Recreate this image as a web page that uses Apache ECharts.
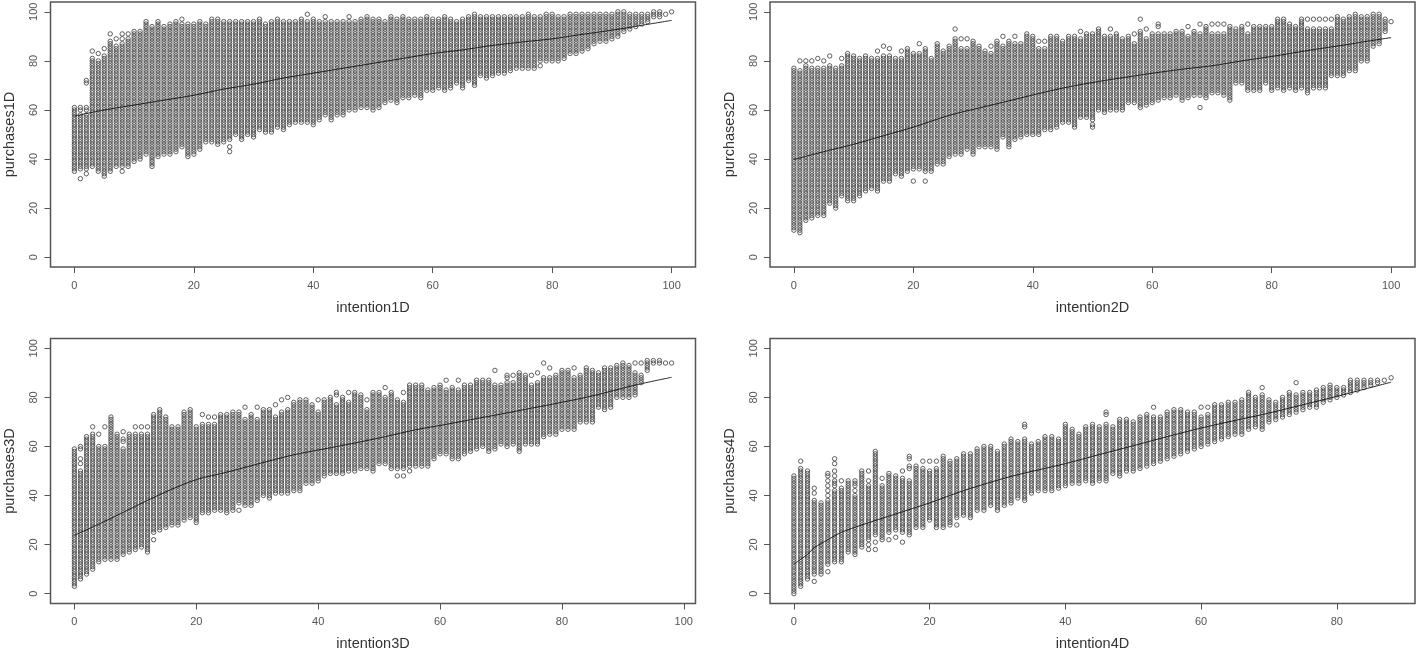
<!DOCTYPE html>
<html><head><meta charset="utf-8">
<style>html,body{margin:0;padding:0;background:#fff}#c{width:1416px;height:652px}</style>
<script src="https://cdn.jsdelivr.net/npm/echarts@6/dist/echarts.min.js"></script>
</head><body><div id="c"></div>
<script>
// Column ranges: index = intention value, each column holds whole-number purchases between bottom and top.
const top1=[61,61,72,84,83,85,91,89,91,91,92,92,96,94,96,94,95,96,97,95,95,96,95,97,97,96,96,96,96,96,96,97,95,96,97,96,96,96,97,99,97,96,98,96,96,96,98,96,97,98,97,97,96,98,97,98,97,97,97,98,97,97,98,97,96,97,98,99,98,98,98,98,98,98,98,98,99,98,98,99,99,98,98,99,99,99,99,99,99,99,99,100,100,99,99,99,99,100,100,99,100];
const bottom1=[35,32,34,37,35,33,35,37,35,37,39,40,42,37,41,42,42,43,45,41,42,44,47,47,46,47,43,50,48,50,49,52,51,51,53,52,54,55,55,55,54,56,58,56,58,58,60,60,61,61,60,61,63,64,63,65,65,66,65,68,68,69,68,69,71,69,72,70,74,73,74,75,75,76,77,77,77,77,78,80,80,80,81,83,83,84,85,87,88,88,89,90,92,93,94,95,96,98,98,99,100];
const gaps1=[[1,33,35],[1,59,59],[2,35,35],[2,59,59],[2,62,70],[3,82,83],[4,81,82],[5,83,84],[6,89,90],[7,87,88],[8,36,36],[8,88,88],[8,90,90],[9,90,90],[26,44,44],[26,46,47],[18,96,96],[39,97,98],[42,97,97],[46,97,97],[78,79,79]];
const curveX1=[0,5,10,15,20,25,30,35,40,45,50,55,60,65,70,75,80,85,90,95,100];
const curveY1=[57.5,60,62,64,66,68.5,70.5,73,75,77,79,81,83,84.5,86.3,87.7,89,90.8,92.5,94.5,96.5];

const top2=[77,80,80,80,81,80,82,77,81,83,82,81,82,81,84,86,85,81,84,85,83,87,85,81,87,84,86,93,89,89,88,86,84,86,88,90,88,90,87,91,90,88,88,90,90,88,90,90,92,91,91,93,90,93,91,89,90,91,97,93,91,95,91,91,92,92,94,92,95,94,95,95,95,94,93,94,95,94,94,94,94,97,97,95,94,97,97,97,97,97,97,98,97,98,99,98,98,99,99,97,96];
const bottom2=[11,10,15,16,17,17,22,20,25,23,23,25,27,28,27,31,31,34,33,35,31,36,31,35,38,38,41,42,42,44,42,45,45,45,44,49,45,48,49,50,50,50,52,52,53,55,55,53,57,57,53,60,59,60,60,60,63,63,61,62,63,64,65,65,66,64,65,66,61,65,67,67,66,64,71,71,68,68,68,71,68,69,68,69,68,69,67,69,69,69,74,74,74,76,76,80,80,86,87,92,96];
const gaps2=[[1,77,79],[2,79,79],[3,78,79],[4,78,80],[5,78,79],[6,79,81],[8,79,80],[14,82,83],[15,83,85],[16,83,84],[18,82,83],[20,32,35],[21,84,86],[22,32,34],[27,90,92],[28,86,88],[29,86,88],[33,84,85],[35,87,89],[37,88,89],[41,86,87],[42,86,87],[48,90,91],[50,55,55],[53,91,92],[57,88,90],[58,93,96],[59,90,92],[61,92,93],[66,91,93],[68,62,65],[68,92,94],[70,92,94],[71,92,94],[72,92,94],[76,92,94],[86,94,96],[87,94,96],[88,94,96],[89,94,96],[90,94,96]];
const curveX2=[0,5,10,15,20,26,31,36,41,46,51,56,61,66,70,75,80,87,92,96,100];
const curveY2=[39.8,43,46,49.5,53,57.8,60.8,63.7,66.7,69.4,71.6,73.5,75.3,76.9,78,80,81.8,84.6,86.4,88,89.5];

const top3=[59,60,64,68,65,68,72,65,66,65,68,68,68,73,75,72,68,68,74,75,68,73,72,72,73,73,74,74,76,73,76,75,75,77,79,80,78,79,79,77,79,79,80,82,80,82,82,81,79,82,82,84,82,79,82,85,85,85,83,84,85,87,84,87,85,85,87,87,87,91,85,89,89,90,89,89,90,94,92,89,91,91,92,89,92,91,90,92,92,93,94,93,94,94,95,95,95,94,94];
const bottom3=[3,6,8,10,13,14,14,14,16,17,18,19,17,22,26,27,28,28,30,31,29,33,33,34,34,33,34,34,36,36,38,40,39,41,41,41,42,40,45,45,46,48,49,49,49,50,50,51,49,50,53,53,51,48,48,50,52,52,52,55,57,57,55,55,57,58,59,60,58,59,61,60,61,58,61,61,61,64,65,62,67,67,67,70,70,70,76,75,76,80,80,80,81,86,91,94,94,94,94];
const gaps3=[[1,51,52],[1,54,54],[1,56,58],[3,66,67],[4,61,64],[5,61,67],[8,60,61],[8,64,65],[10,66,67],[11,66,67],[12,66,67],[13,23,24],[21,70,72],[22,70,71],[23,70,71],[27,35,36],[28,72,75],[30,72,75],[33,73,76],[34,75,78],[35,76,79],[37,40,41],[40,75,78],[43,78,80],[45,79,81],[48,76,78],[48,49,50],[51,81,83],[53,49,50],[54,49,50],[55,51,51],[54,79,81],[61,84,86],[63,84,86],[69,86,90],[71,87,87],[72,87,88],[75,86,88],[76,87,89],[77,89,93],[78,89,91],[79,62,64],[82,89,91],[85,55,55],[92,91,93],[93,90,93]];
const curveX3=[0,5,10,15,20,25,30,36,41,46,51,56,61,65,70,75,80,85,92,98];
const curveY3=[23.8,29.5,35.6,41.5,46.5,49.5,52.8,56.6,59,61.4,64,66.8,69,70.9,73.2,75.6,78,80.6,85,88.2];

const top4=[48,54,50,43,37,49,55,46,46,46,50,50,58,47,49,48,50,56,52,54,54,54,56,54,55,57,57,59,60,60,58,61,63,62,69,61,62,64,64,63,69,67,65,68,69,68,74,68,71,71,70,72,73,76,72,74,75,75,74,74,76,76,77,77,78,78,79,82,80,84,79,78,80,82,86,82,82,83,84,85,84,84,87,87,87,87,87,87,88];
const bottom4=[0,3,6,5,8,9,13,13,17,16,19,18,18,22,22,23,21,24,27,27,30,27,27,28,28,32,31,34,34,36,34,36,37,39,38,41,42,42,42,43,44,45,45,46,45,46,46,49,48,50,50,51,52,53,54,55,56,57,58,59,60,61,62,63,64,65,65,67,68,67,70,71,72,73,74,75,76,76,78,79,80,81,82,83,84,85,86,87,88];
const gaps4=[[1,52,53],[3,6,7],[3,39,40],[3,42,42],[5,10,11],[5,39,39],[5,41,41],[5,43,43],[5,45,45],[5,47,47],[6,43,43],[6,47,47],[6,49,49],[6,51,52],[6,54,54],[7,44,45],[9,41,41],[9,43,43],[11,19,19],[11,21,21],[11,45,45],[11,47,49],[12,19,20],[12,22,23],[13,45,46],[14,23,24],[15,24,25],[16,22,24],[16,48,49],[17,47,50],[17,53,54],[19,52,53],[20,51,53],[21,52,53],[24,29,30],[34,64,67],[46,70,72],[53,73,75],[60,73,75],[61,74,75],[69,82,83],[74,82,85]];
const curveX4=[0,1,2,3,5,7,10,15,20,25,32,40,45,50,55,60,65,70,75,80,84,88];
const curveY4=[12,14,16,18.7,22,25,28,32.5,37,42,47.8,53,56.7,60.3,64,67.5,70.6,73.6,77,80.4,83.3,86.2];

const xNames=["intention1D","intention2D","intention3D","intention4D"];
const yNames=["purchases1D","purchases2D","purchases3D","purchases4D"];
const xLimits=[[-4,104],[-4,104],[-3.92,101.92],[-3.52,91.52]];
const yLimits=[-4,104];
const xTicks=[[0,20,40,60,80,100],[0,20,40,60,80,100],[0,20,40,60,80,100],[0,20,40,60,80]];
const yTicks=[0,20,40,60,80,100];

const tops=[top1,top2,top3,top4], bottoms=[bottom1,bottom2,bottom3,bottom4], gaps=[gaps1,gaps2,gaps3,gaps4];
const curveXs=[curveX1,curveX2,curveX3,curveX4], curveYs=[curveY1,curveY2,curveY3,curveY4];
const boxes=[[50.5,2],[770,2],[50.5,338.5],[770,338.5]];
const grey='#555', font='"Liberation Sans",Arial,sans-serif';

function columnPoints(p){
  const out=[];
  tops[p].forEach((t,x)=>{
    for(let y=bottoms[p][x];y<=t;y++){
      if(gaps[p].some(g=>g[0]===x&&y>=g[1]&&y<=g[2])) continue;
      out.push([x,y]);
    }
  });
  return out;
}
const grid=[],xAxis=[],yAxis=[],series=[];
for(let p=0;p<4;p++){
  grid.push({left:boxes[p][0],top:boxes[p][1],width:645,height:265,outerBoundsMode:'none',containLabel:false,show:true,borderColor:grey,borderWidth:1.5,backgroundColor:'#fff'});
  xAxis.push({type:'value',gridIndex:p,min:xLimits[p][0],max:xLimits[p][1],name:xNames[p],nameLocation:'middle',nameGap:33,
    nameTextStyle:{fontFamily:font,fontSize:14.5,color:'#333'},splitLine:{show:false},axisLine:{show:false,onZero:false},
    axisTick:{show:true,length:6,customValues:xTicks[p],lineStyle:{color:grey,width:1}},
    axisLabel:{customValues:xTicks[p],margin:13,fontFamily:font,fontSize:11,color:'#555'}});
  yAxis.push({type:'value',gridIndex:p,min:yLimits[0],max:yLimits[1],name:yNames[p],nameLocation:'middle',nameGap:33,
    nameTextStyle:{fontFamily:font,fontSize:14.5,color:'#333'},splitLine:{show:false},axisLine:{show:false,onZero:false},
    axisTick:{show:true,length:6,customValues:yTicks,lineStyle:{color:grey,width:1}},
    axisLabel:{customValues:yTicks,rotate:90,margin:11,fontFamily:font,fontSize:11,color:'#555'}});
  series.push({type:'scatter',xAxisIndex:p,yAxisIndex:p,data:columnPoints(p),symbol:'circle',symbolSize:4.4,
    itemStyle:{color:'rgba(255,255,255,0)',borderColor:'#444',borderWidth:0.85,opacity:1},
    progressive:0,silent:true,animation:false});
  series.push({type:'line',xAxisIndex:p,yAxisIndex:p,data:curveXs[p].map((x,i)=>[x,curveYs[p][i]]),showSymbol:false,smooth:0.3,
    lineStyle:{color:'#111',width:0.9},z:5,silent:true,animation:false});
}
const chart=echarts.init(document.getElementById('c'),null,{renderer:'canvas'});
chart.setOption({animation:false,backgroundColor:'#fff',grid,xAxis,yAxis,series});
</script></body></html>
